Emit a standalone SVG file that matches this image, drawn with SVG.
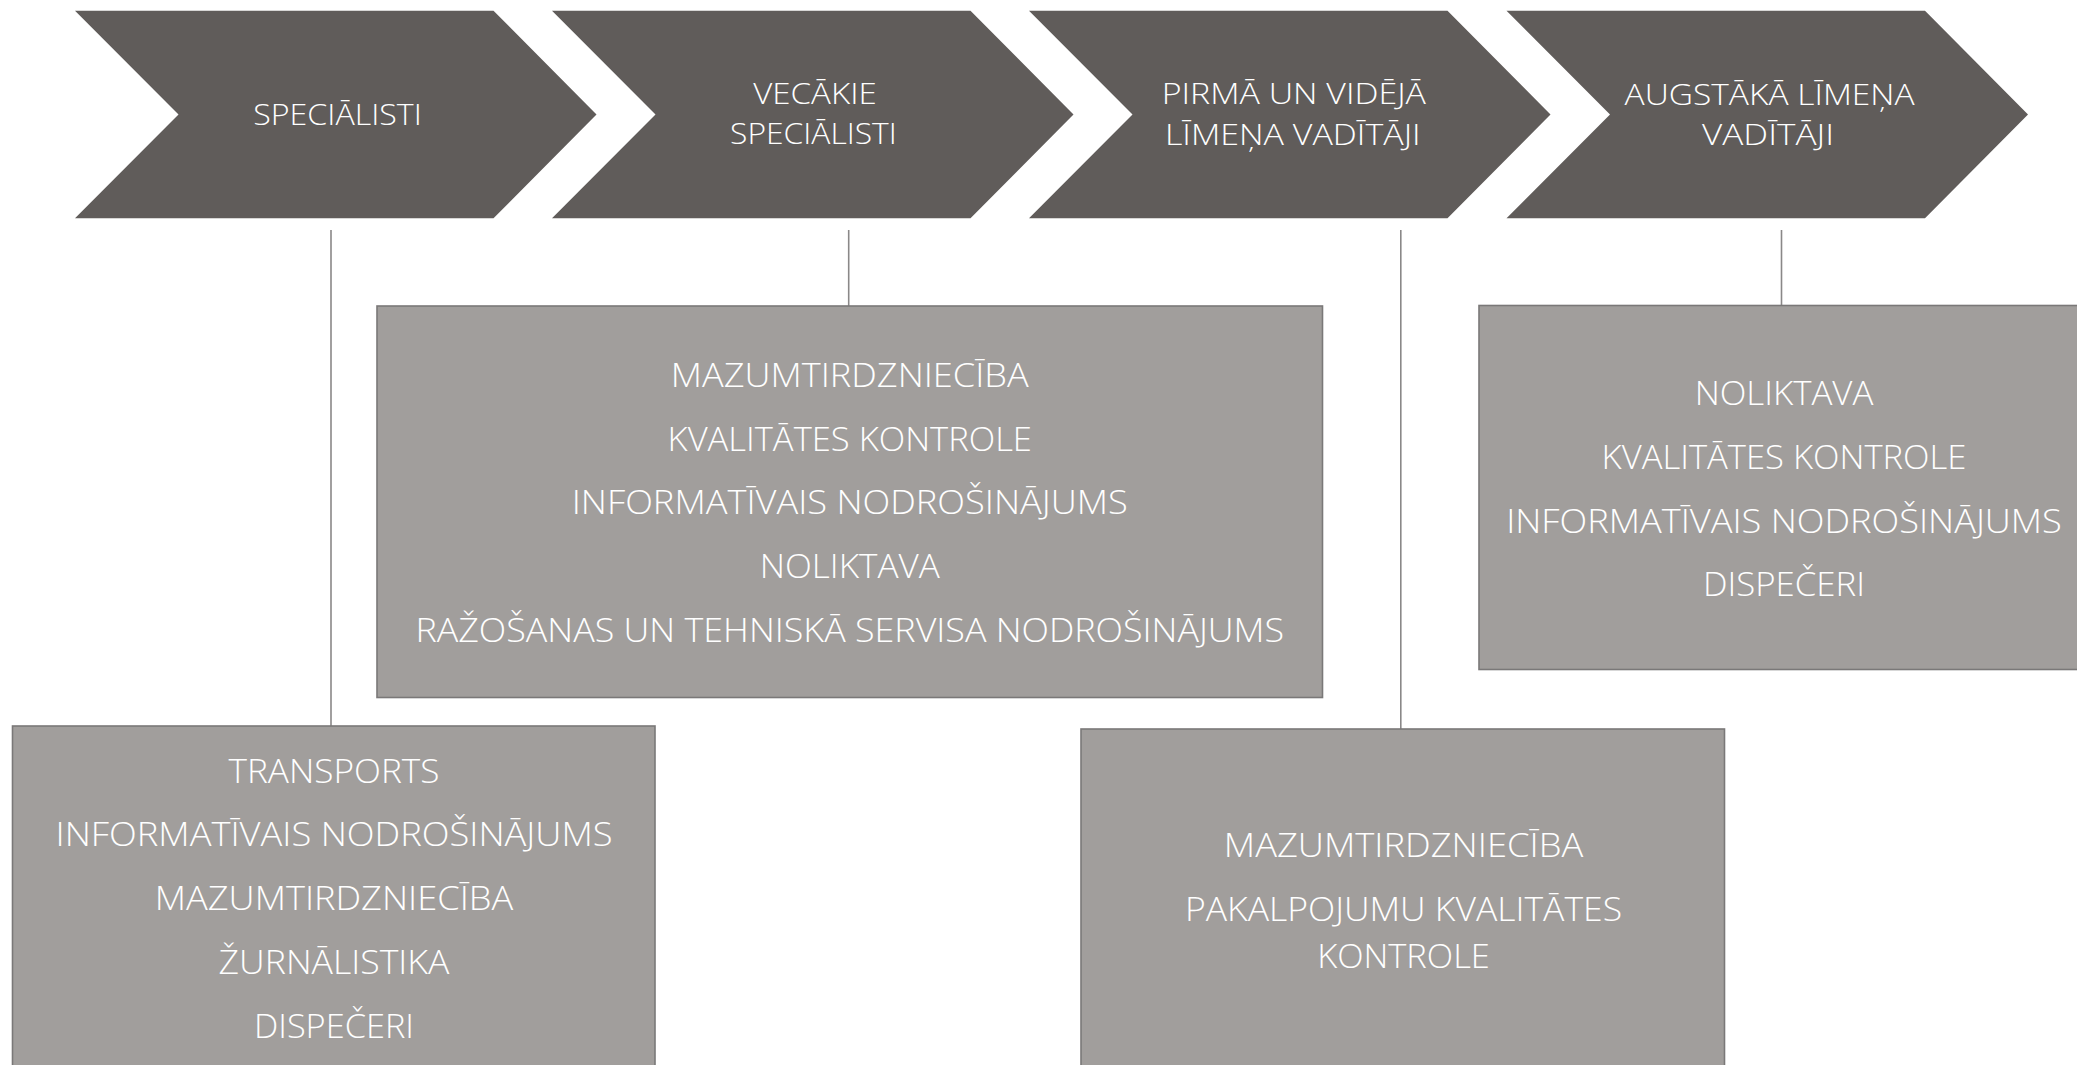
<svg xmlns="http://www.w3.org/2000/svg" width="2077" height="1065" viewBox="0 0 2077 1065">
<style>
.chev{fill:#605C5A;}
.box{fill:#A19E9C;stroke:#7A7878;stroke-width:1.6;}
.conn{stroke:#8A8888;stroke-width:1.6;fill:none;}
.ct{font-family:"Open Sans","Liberation Sans",sans-serif;font-weight:300;font-size:30px;fill:#FFFFFF;text-anchor:middle;}
.bt{font-family:"Open Sans","Liberation Sans",sans-serif;font-weight:300;font-size:32.5px;fill:#FFFFFF;text-anchor:middle;}
</style>
<rect x="0" y="0" width="2077" height="1065" fill="#FFFFFF"/>
<g id="connectors">
<line class="conn" x1="331" y1="230" x2="331" y2="726"/>
<line class="conn" x1="848.7" y1="230" x2="848.7" y2="306"/>
<line class="conn" x1="1400.8" y1="230" x2="1400.8" y2="729"/>
<line class="conn" x1="1781.5" y1="230" x2="1781.5" y2="305.5"/>
</g>
<g id="chevron-specialisti">
<polygon class="chev" points="75,10.7 493.5,10.7 596.5,114.5 493.5,218.3 75,218.3 178.5,114.5"/>
<text class="ct" x="337.5" y="124.5" textLength="168.5" lengthAdjust="spacingAndGlyphs">SPECIĀLISTI</text>
</g>
<g id="chevron-vecakie">
<polygon class="chev" points="552,10.7 970.5,10.7 1073.5,114.5 970.5,218.3 552,218.3 655.5,114.5"/>
<text class="ct" x="815" y="104.3" textLength="123.4" lengthAdjust="spacingAndGlyphs">VECĀKIE</text>
<text class="ct" x="813.4" y="144.3" textLength="166.7" lengthAdjust="spacingAndGlyphs">SPECIĀLISTI</text>
</g>
<g id="chevron-pirma">
<polygon class="chev" points="1029,10.7 1447.5,10.7 1550.5,114.5 1447.5,218.3 1029,218.3 1132.5,114.5"/>
<text class="ct" x="1293.8" y="104.3" textLength="264.3" lengthAdjust="spacingAndGlyphs">PIRMĀ UN VIDĒJĀ</text>
<text class="ct" x="1292.8" y="145" textLength="255.7" lengthAdjust="spacingAndGlyphs">LĪMEŅA VADĪTĀJI</text>
</g>
<g id="chevron-augstaka">
<polygon class="chev" points="1506.5,10.7 1925,10.7 2028,114.5 1925,218.3 1506.5,218.3 1610,114.5"/>
<text class="ct" x="1769.6" y="104.5" textLength="290" lengthAdjust="spacingAndGlyphs">AUGSTĀKĀ LĪMEŅA</text>
<text class="ct" x="1768" y="145" textLength="132" lengthAdjust="spacingAndGlyphs">VADĪTĀJI</text>
</g>
<g id="box-specialisti">
<rect class="box" x="12.5" y="726" width="642.5" height="400"/>
<text class="bt" x="334" y="782.5" textLength="211" lengthAdjust="spacingAndGlyphs">TRANSPORTS</text>
<text class="bt" x="334" y="846.4" textLength="557" lengthAdjust="spacingAndGlyphs">INFORMATĪVAIS NODROŠINĀJUMS</text>
<text class="bt" x="334" y="910.3" textLength="358.5" lengthAdjust="spacingAndGlyphs">MAZUMTIRDZNIECĪBA</text>
<text class="bt" x="334" y="974.2" textLength="230.8" lengthAdjust="spacingAndGlyphs">ŽURNĀLISTIKA</text>
<text class="bt" x="334" y="1038.1" textLength="160" lengthAdjust="spacingAndGlyphs">DISPEČERI</text>
</g>
<g id="box-vecakie">
<rect class="box" x="377" y="306" width="945.5" height="391.5"/>
<text class="bt" x="849.75" y="386.7" textLength="358" lengthAdjust="spacingAndGlyphs">MAZUMTIRDZNIECĪBA</text>
<text class="bt" x="849.75" y="450.5" textLength="364.4" lengthAdjust="spacingAndGlyphs">KVALITĀTES KONTROLE</text>
<text class="bt" x="849.75" y="514.3" textLength="556" lengthAdjust="spacingAndGlyphs">INFORMATĪVAIS NODROŠINĀJUMS</text>
<text class="bt" x="849.75" y="578.1" textLength="180" lengthAdjust="spacingAndGlyphs">NOLIKTAVA</text>
<text class="bt" x="849.75" y="641.8" textLength="868.7" lengthAdjust="spacingAndGlyphs">RAŽOŠANAS UN TEHNISKĀ SERVISA NODROŠINĀJUMS</text>
</g>
<g id="box-augstaka">
<rect class="box" x="1479" y="305.5" width="610" height="364"/>
<text class="bt" x="1784" y="405" textLength="178.7" lengthAdjust="spacingAndGlyphs">NOLIKTAVA</text>
<text class="bt" x="1784" y="469" textLength="364.8" lengthAdjust="spacingAndGlyphs">KVALITĀTES KONTROLE</text>
<text class="bt" x="1784" y="532.7" textLength="555.7" lengthAdjust="spacingAndGlyphs">INFORMATĪVAIS NODROŠINĀJUMS</text>
<text class="bt" x="1784" y="596" textLength="162" lengthAdjust="spacingAndGlyphs">DISPEČERI</text>
</g>
<g id="box-pirma">
<rect class="box" x="1081" y="729" width="643.5" height="400"/>
<text class="bt" x="1403.5" y="856.7" textLength="359.4" lengthAdjust="spacingAndGlyphs">MAZUMTIRDZNIECĪBA</text>
<text class="bt" x="1403.5" y="920.7" textLength="437" lengthAdjust="spacingAndGlyphs">PAKALPOJUMU KVALITĀTES</text>
<text class="bt" x="1403.5" y="968.3" textLength="172.7" lengthAdjust="spacingAndGlyphs">KONTROLE</text>
</g>
</svg>
